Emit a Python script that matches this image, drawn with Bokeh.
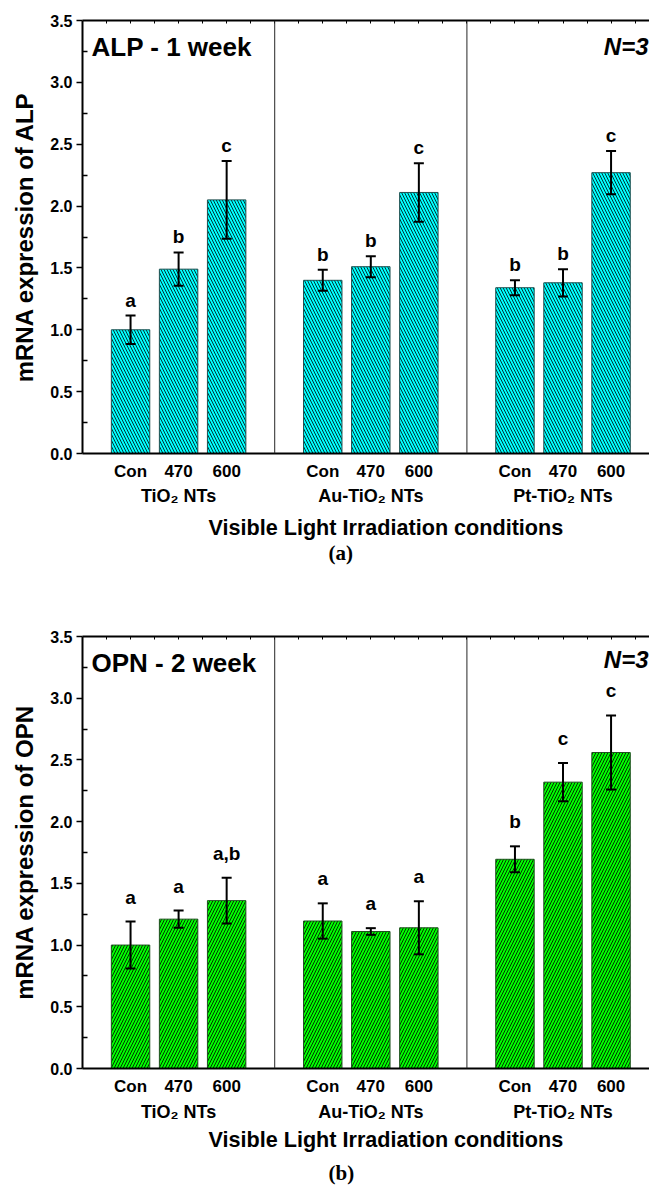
from bokeh.plotting import figure
from bokeh.layouts import column
from bokeh.models import (ColumnDataSource, Whisker, TeeHead, Span, Label, LinearAxis,
                          FixedTicker, Range1d, Title, NumeralTickFormatter)
from bokeh.core.properties import value
from bokeh.embed import file_html
from bokeh.resources import INLINE

# ---------------- data ----------------
groups = ["TiO₂ NTs", "Au-TiO₂ NTs", "Pt-TiO₂ NTs"]
conditions = ["Con", "470", "600"]
y_ticks = [0.0, 0.5, 1.0, 1.5, 2.0, 2.5, 3.0, 3.5]
x_title = "Visible Light Irradiation conditions"

alp_mean = [1.00, 1.49, 2.05, 1.40, 1.51, 2.11, 1.34, 1.38, 2.27]
alp_err = [0.115, 0.135, 0.315, 0.085, 0.085, 0.237, 0.06, 0.11, 0.175]
alp_sig = ["a", "b", "c", "b", "b", "c", "b", "b", "c"]

opn_mean = [1.00, 1.21, 1.36, 1.195, 1.11, 1.14, 1.695, 2.32, 2.56]
opn_err = [0.19, 0.07, 0.185, 0.143, 0.027, 0.215, 0.105, 0.155, 0.30]
opn_sig = ["a", "a", "a,b", "a", "a", "a", "b", "c", "c"]

FONT = "Liberation Sans"
SERIF = "Liberation Serif"
WIDTH = 649
X_END = 11.8


def make_panel(means, errs, sigs, title, ylabel, caption, fill, outline, hatch,
               height, border_top, border_bottom, letter_gap,
               s_tick, s_group, s_title, cap_standoff, n_offset):
    xs = [g * (len(conditions) + 1) + c + 1 for g in range(len(groups)) for c in range(len(conditions))]
    labels = [conditions[c] for g in range(len(groups)) for c in range(len(conditions))]
    src = ColumnDataSource(dict(
        x=xs, top=means,
        upper=[m + e for m, e in zip(means, errs)],
        lower=[m - e for m, e in zip(means, errs)],
        sig=sigs,
    ))

    p = figure(width=WIDTH, height=height, x_range=Range1d(0, X_END),
               y_range=Range1d(y_ticks[0], y_ticks[-1]),
               output_backend="svg", toolbar_location=None,
               min_border_left=82, min_border_right=0,
               min_border_top=border_top, min_border_bottom=border_bottom)
    p.outline_line_color = None
    p.xgrid.visible = False
    p.ygrid.visible = False
    p.background_fill_color = "white"

    # group separators
    for g in range(1, len(groups)):
        p.add_layout(Span(location=g * (len(conditions) + 1), dimension="height",
                          line_color="#262626", line_width=1))

    p.vbar(x="x", top="top", bottom=0, width=0.8, source=src,
           fill_color=fill, line_color=outline, line_width=1,
           hatch_pattern=hatch, hatch_color="black", hatch_scale=6, hatch_weight=0.8)

    p.add_layout(Whisker(source=src, base="x", upper="upper", lower="lower",
                         line_color="black", line_width=2, level="annotation",
                         upper_head=TeeHead(size=10, line_width=2, line_color="black"),
                         lower_head=TeeHead(size=10, line_width=2, line_color="black")))

    p.text(x="x", y="upper", text="sig", source=src, text_align="center",
           text_baseline="bottom", y_offset=-letter_gap,
           text_font=value(FONT), text_font_style="bold", text_font_size="19px",
           text_color="black")

    # y axis
    yax = p.yaxis[0]
    minor = [(a + b) / 2 for a, b in zip(y_ticks[:-1], y_ticks[1:])]
    yax.ticker = FixedTicker(ticks=y_ticks, minor_ticks=minor)
    yax.formatter = NumeralTickFormatter(format="0.0")
    yax.axis_line_width = 2
    yax.axis_line_color = "black"
    yax.major_tick_out = 6
    yax.major_tick_in = 0
    yax.major_tick_line_width = 1.5
    yax.minor_tick_out = 0
    yax.minor_tick_in = 5
    yax.minor_tick_line_width = 1.5
    yax.major_label_text_font = FONT
    yax.major_label_text_font_style = "bold"
    yax.major_label_text_font_size = "16px"
    yax.major_label_text_color = "black"
    yax.major_label_standoff = 4
    yax.axis_label = ylabel
    yax.axis_label_text_font = FONT
    yax.axis_label_text_font_style = "bold"
    yax.axis_label_text_font_size = "24px"
    yax.axis_label_text_color = "black"
    yax.axis_label_standoff = 9

    # bottom axis with condition labels
    xax = p.xaxis[0]
    xax.ticker = FixedTicker(ticks=xs)
    xax.major_label_overrides = {x: l for x, l in zip(xs, labels)}
    xax.axis_line_width = 2
    xax.axis_line_color = "black"
    xax.major_tick_line_color = None
    xax.major_tick_out = 0
    xax.major_tick_in = 0
    xax.minor_tick_line_color = None
    xax.minor_tick_out = 0
    xax.major_label_text_font = FONT
    xax.major_label_text_font_style = "bold"
    xax.major_label_text_font_size = "17px"
    xax.major_label_text_color = "black"
    xax.major_label_standoff = s_tick

    # second bottom axis with group labels
    centers = [g * (len(conditions) + 1) + (len(conditions) + 1) / 2 for g in range(len(groups))]
    gax = LinearAxis(ticker=FixedTicker(ticks=centers),
                     major_label_overrides={c: n for c, n in zip(centers, groups)},
                     axis_line_color=None, major_tick_line_color=None,
                     minor_tick_line_color=None, major_tick_out=0, major_tick_in=0,
                     minor_tick_out=0, minor_tick_in=0,
                     major_label_text_font=FONT, major_label_text_font_style="bold",
                     major_label_text_font_size="18px", major_label_text_color="black",
                     major_label_standoff=s_group)
    p.add_layout(gax, "below")

    # top border with small inward ticks (labels not drawn)
    top_ticks = [i * 0.5 for i in range(1, int(X_END * 2) + 1)]
    tax = LinearAxis(ticker=FixedTicker(ticks=top_ticks, minor_ticks=[]),
                     axis_line_width=2, axis_line_color="black",
                     major_tick_in=3, major_tick_out=0, major_tick_line_width=1,
                     minor_tick_line_color=None, minor_tick_out=0,
                     major_label_text_color=None, major_label_text_font_size="8px",
                     major_label_standoff=0)
    p.add_layout(tax, "above")

    # panel annotations
    p.add_layout(Label(x=0, y=y_ticks[-1], x_offset=9, y_offset=-26, text=title,
                       text_baseline="middle", text_font=FONT, text_font_style="bold",
                       text_font_size="26px", text_color="black"))
    p.add_layout(Label(x=X_END, y=y_ticks[-1], x_offset=-1, y_offset=n_offset, text="N=3",
                       text_align="right", text_baseline="middle", text_font=FONT,
                       text_font_style="bold italic", text_font_size="24px",
                       text_color="black"))

    # x axis title (placed as a below title so that it can sit off-centre like the original)
    p.add_layout(Title(text=x_title, align="left", offset=126, standoff=s_title,
                       text_font=FONT, text_font_style="bold", text_font_size="21.6px",
                       text_color="black"), "below")
    p.add_layout(Title(text=caption, align="left", offset=246, standoff=cap_standoff,
                       text_font=SERIF, text_font_style="bold", text_font_size="21px",
                       text_color="black"), "below")
    return p


p1 = make_panel(alp_mean, alp_err, alp_sig, "ALP - 1 week", "mRNA expression of ALP", "(a)",
                "#00FFFF", "#1f4f4f", "\\", height=565, border_top=20, border_bottom=112,
                letter_gap=5, s_tick=8, s_group=2, s_title=8, cap_standoff=-9, n_offset=-26)
p2 = make_panel(opn_mean, opn_err, opn_sig, "OPN - 2 week", "mRNA expression of OPN", "(b)",
                "#00FF00", "#1f4f1f", "/", height=628, border_top=71, border_bottom=125,
                letter_gap=14, s_tick=8, s_group=3, s_title=0, cap_standoff=15, n_offset=-23)

layout = column(p1, p2, spacing=0)
open("out.html", "w").write(file_html(layout, INLINE))
